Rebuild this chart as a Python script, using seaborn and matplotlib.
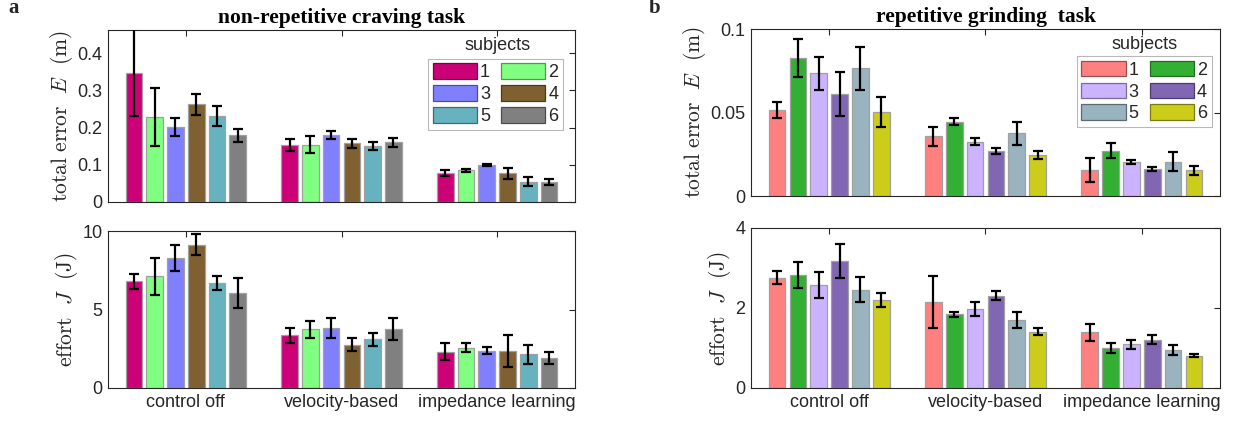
import numpy as np
import pandas as pd
import matplotlib
matplotlib.use("Agg")
import matplotlib.pyplot as plt
import seaborn as sns
from matplotlib.patches import Patch
from matplotlib.ticker import FuncFormatter
import matplotlib.colors as mcolors

conditions = ["control off", "velocity-based", "impedance learning"]
subjects = ["1", "2", "3", "4", "5", "6"]

# panel a: non-repetitive craving task
a_E_mean = [[0.347, 0.229, 0.202, 0.262, 0.231, 0.179],
            [0.153, 0.154, 0.179, 0.158, 0.150, 0.160],
            [0.077, 0.085, 0.100, 0.077, 0.055, 0.054]]
a_E_err = [[0.117, 0.078, 0.024, 0.029, 0.027, 0.018],
           [0.017, 0.023, 0.011, 0.012, 0.011, 0.013],
           [0.008, 0.004, 0.002, 0.015, 0.011, 0.008]]
a_J_mean = [[6.80, 7.11, 8.28, 9.12, 6.70, 6.07],
            [3.36, 3.73, 3.83, 2.77, 3.11, 3.77],
            [2.32, 2.56, 2.38, 2.36, 2.15, 1.89]]
a_J_err = [[0.47, 1.19, 0.81, 0.66, 0.43, 0.96],
           [0.47, 0.52, 0.66, 0.39, 0.41, 0.72],
           [0.55, 0.28, 0.21, 1.02, 0.61, 0.39]]

# panel b: repetitive grinding task
b_E_mean = [[0.0516, 0.0826, 0.0734, 0.0610, 0.0764, 0.0502],
            [0.0358, 0.0446, 0.0326, 0.0268, 0.0376, 0.0244],
            [0.0155, 0.0272, 0.0206, 0.0160, 0.0206, 0.0153]]
b_E_err = [[0.0049, 0.0112, 0.0099, 0.0131, 0.0128, 0.0091],
           [0.0056, 0.0023, 0.0022, 0.0019, 0.0068, 0.0023],
           [0.0072, 0.0046, 0.0012, 0.0013, 0.0057, 0.0026]]
b_J_mean = [[2.76, 2.83, 2.57, 3.17, 2.46, 2.20],
            [2.16, 1.84, 1.97, 2.31, 1.70, 1.41],
            [1.39, 1.00, 1.09, 1.21, 0.95, 0.81]]
b_J_err = [[0.16, 0.33, 0.32, 0.42, 0.31, 0.18],
           [0.65, 0.07, 0.17, 0.12, 0.20, 0.08],
           [0.21, 0.12, 0.11, 0.12, 0.12, 0.04]]

colors_a = ["#CC0077", "#80FF80", "#8080FF", "#7F6030", "#66B2BF", "#808080"]
colors_b = ["#FF8080", "#33B033", "#CCB3FF", "#8066B3", "#99B3BF", "#CCCC1A"]

sns.set_theme(style="white")
plt.rcParams["font.family"] = ["Liberation Sans", "DejaVu Sans"]
plt.rcParams["mathtext.fontset"] = "cm"

TXT = "#262626"
FS = 13

fig = plt.figure(figsize=(12.4, 4.28), dpi=100)
W, H = 1240, 428


def ax_at(x0, x1, y0, y1):
    return fig.add_axes([x0 / W, (H - y1) / H, (x1 - x0) / W, (y1 - y0) / H])


def draw(ax, mean, err, colors, ylim, yticks, ylabel, show_x):
    df = pd.DataFrame([(c, s, mean[i][j]) for i, c in enumerate(conditions)
                       for j, s in enumerate(subjects)],
                      columns=["condition", "subject", "value"])
    sns.barplot(data=df, x="condition", y="value", hue="subject",
                palette=colors, errorbar=None, gap=0.2, saturation=1,
                edgecolor="#a0a0a0", linewidth=0.9, legend=False, ax=ax)
    bars = sorted(ax.patches, key=lambda p: p.get_x())
    xs = [p.get_x() + p.get_width() / 2 for p in bars]
    ax.errorbar(xs, np.array(mean).ravel(), yerr=np.array(err).ravel(),
                fmt="none", ecolor="black", elinewidth=1.6, capsize=3.6,
                capthick=1.6, zorder=5)
    ax.set_xlim(-0.5, 2.5)
    ax.set_ylim(*ylim)
    ax.set_yticks(yticks)
    ax.yaxis.set_major_formatter(FuncFormatter(lambda v, p: f"{v:g}"))
    ax.set_ylabel(ylabel, fontsize=15.5, color=TXT, labelpad=2)
    ax.set_xlabel("")
    ax.tick_params(direction="in", top=True, right=True, length=4.5,
                   width=0.8, colors=TXT, labelsize=FS, pad=4)
    if not show_x:
        ax.set_xticklabels([])
    for s in ax.spines.values():
        s.set_color(TXT)
        s.set_linewidth(0.8)


def legend(ax, colors, anchor, title_xy):
    handles = [Patch(facecolor=c,
                     edgecolor=mcolors.to_hex(np.array(mcolors.to_rgb(c)) * 0.6),
                     linewidth=0.9, label=s) for c, s in zip(colors, subjects)]
    order = [0, 2, 4, 1, 3, 5]
    leg = ax.legend([handles[i] for i in order], [subjects[i] for i in order],
                    ncol=2, loc="upper right", bbox_to_anchor=anchor,
                    frameon=True, fancybox=False, framealpha=1,
                    edgecolor="#b8b8b8", fontsize=FS, handlelength=2.45,
                    handleheight=0.95, handletextpad=0.17, columnspacing=0.6,
                    labelspacing=0.22, borderpad=0.25, borderaxespad=0)
    leg.get_frame().set_linewidth(0.8)
    for t in leg.get_texts():
        t.set_color(TXT)
    ax.text(title_xy[0], title_xy[1], "subjects", transform=ax.transAxes,
            ha="center", va="center", fontsize=FS, color=TXT)


E_label = r"$\mathrm{total\ error}\ \ E\ \ \mathrm{(m)}$"
J_label = r"$\mathrm{effort}\ \ J\ \ \mathrm{(J)}$"

ax1 = ax_at(108, 575, 30, 202)
draw(ax1, a_E_mean, a_E_err, colors_a, (0, 0.462), [0, 0.1, 0.2, 0.3, 0.4], E_label, False)
legend(ax1, colors_a, (0.974, 0.832), (0.834, 0.907))
ax1.set_title("non-repetitive craving task", fontsize=15.5, fontweight="bold",
              family="Liberation Serif", color="black", pad=5)

ax2 = ax_at(108, 575, 231, 388)
draw(ax2, a_J_mean, a_J_err, colors_a, (0, 10), [0, 5, 10], J_label, True)

ax3 = ax_at(751, 1220, 29, 196)
draw(ax3, b_E_mean, b_E_err, colors_b, (0, 0.1), [0, 0.05, 0.1], E_label, False)
legend(ax3, colors_b, (0.982, 0.838), (0.84, 0.91))
ax3.set_title("repetitive grinding  task", fontsize=15.5, fontweight="bold",
              family="Liberation Serif", color="black", pad=5)

ax4 = ax_at(751, 1220, 228, 388)
draw(ax4, b_J_mean, b_J_err, colors_b, (0, 4), [0, 2, 4], J_label, True)

fig.text(8 / W, 1 - 8 / H, "a", fontsize=15, fontweight="bold",
         family="Liberation Serif", va="center", ha="left")
fig.text(649 / W, 1 - 8 / H, "b", fontsize=15, fontweight="bold",
         family="Liberation Serif", va="center", ha="left")

fig.savefig("out.png", dpi=100)
